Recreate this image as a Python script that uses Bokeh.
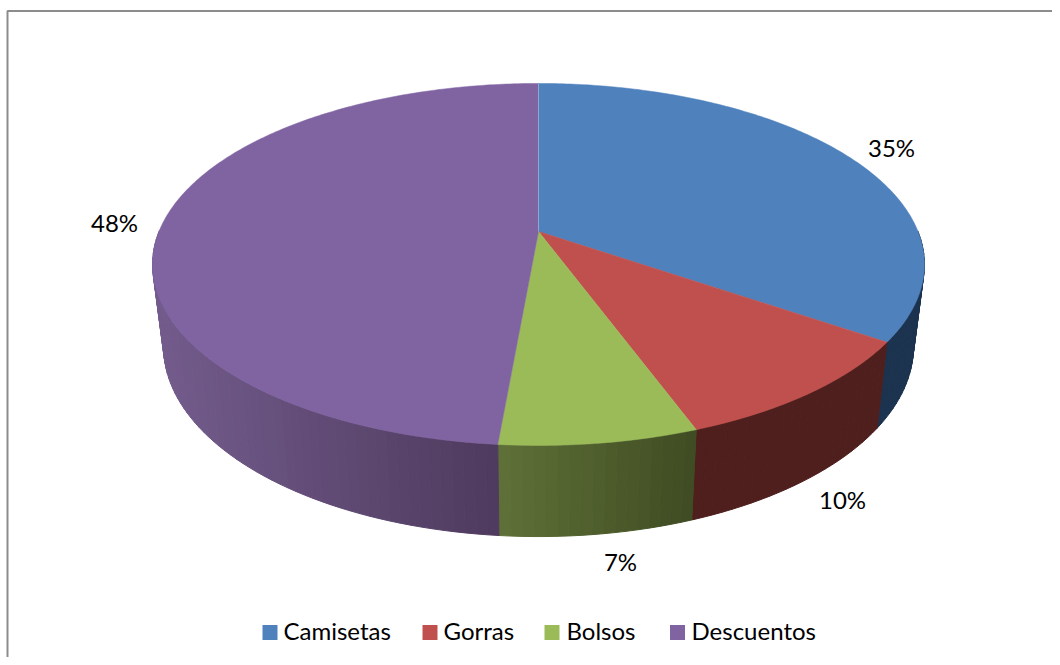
import math
from bokeh.embed import file_html
from bokeh.models import Range1d
from bokeh.plotting import figure
from bokeh.resources import INLINE
from bokeh.core.properties import value

# ---- data ----
categories = ["Camisetas", "Gorras", "Bolsos", "Descuentos"]
shares = [34.6, 9.8, 7.0, 48.6]
labels = ["35%", "10%", "7%", "48%"]
top_colors = ["#4F81BD", "#C0504D", "#9BBB59", "#8064A2"]

# ---- style / layout ----
wall_left = ["#1C334F", "#4E1F1D", "#5F7138", "#735C8C"]
wall_right = ["#1C334F", "#4E1F1D", "#3F4B22", "#4E3A5E"]
label_pos = [(891, 147), (842, 499), (620, 561), (114, 222)]
legend_box_x = [269.5, 429.5, 551.5, 677]
legend_text_x = [283, 443, 566, 691]
legend_y = 632
legend_text_y = 630
CX = 538
K = -0.182
TOP = dict(x=379.5, y0=231.0, s=175.0)
BOT = dict(x=368.7, y0=311.5, s=183.7)
FONT = "Lato"


def project(frac, surf):
    a = 2 * math.pi * frac
    u, v = math.sin(a), -math.cos(a)
    d = 1 + K * v
    return CX + surf["x"] * u / d, surf["y0"] + surf["s"] * v / d


def lerp_color(c0, c1, t):
    t = max(0.0, min(1.0, t))
    a = [int(c0[i:i + 2], 16) for i in (1, 3, 5)]
    b = [int(c1[i:i + 2], 16) for i in (1, 3, 5)]
    return "#%02x%02x%02x" % tuple(round(p + (q - p) * t) for p, q in zip(a, b))


total = sum(shares)
edges = [0.0]
for s in shares:
    edges.append(edges[-1] + s / total)

p = figure(width=1052, height=657, output_backend="svg", toolbar_location=None,
           x_range=Range1d(0, 1052), y_range=Range1d(657, 0),
           min_border=0)
p.axis.visible = False
p.grid.visible = False
p.outline_line_color = None
p.background_fill_color = "white"

# chart frame
p.line([7, 7, 1052], [657, 10.5, 10.5], line_color="#8C8C8C", line_width=2)

# walls, as narrow quads shaded along x
STEP = 0.004
for i in range(4):
    n = max(2, int((edges[i + 1] - edges[i]) / STEP))
    f0, f1 = edges[i], edges[i + 1]
    x_end = project(f0, TOP)[0]
    x_start = project(f1, TOP)[0]
    if i == 3:
        x_start, x_end = CX - 386, project(edges[3], TOP)[0]
    for j in range(n):
        a, b = f0 + (f1 - f0) * j / n, f0 + (f1 - f0) * (j + 1) / n
        if 0.75 < a or b < 0.25:
            continue
        xa, ya = project(a, TOP)
        xb, yb = project(b, TOP)
        xc, yc = project(b, BOT)
        xd, yd = project(a, BOT)
        t = ((xa + xb) / 2 - x_start) / (x_end - x_start) if x_end != x_start else 0
        col = lerp_color(wall_left[i], wall_right[i], t)
        p.patch([xa, xb, xc, xd], [ya, yb, yc, yd], fill_color=col, line_color=col, line_width=1)

# the top surface
apex = (CX, TOP["y0"])
for i in range(4):
    n = max(2, int((edges[i + 1] - edges[i]) / (STEP / 2)))
    pts = [project(edges[i] + (edges[i + 1] - edges[i]) * j / n, TOP) for j in range(n + 1)]
    p.patch([apex[0]] + [q[0] for q in pts], [apex[1]] + [q[1] for q in pts],
            fill_color=top_colors[i], line_color=top_colors[i], line_width=0.5)

# light seam between first and last slice
s0 = project(0.0, TOP)
p.line([apex[0], s0[0]], [apex[1], s0[1]], line_color="#8CA8CE", line_width=1)

# data labels
p.text([q[0] for q in label_pos], [q[1] for q in label_pos], text=labels,
       text_font=value(FONT), text_font_size="24px", text_color="#000000",
       text_align="center", text_baseline="middle")

# legend
p.rect(legend_box_x, [legend_y] * 4, width=15, height=15, fill_color=top_colors, line_color=None)
p.text(legend_text_x, [legend_text_y] * 4, text=categories, text_font=value(FONT),
       text_font_size="24px", text_color="#000000", text_align="left", text_baseline="middle")

open("out.html", "w").write(file_html(p, INLINE))
